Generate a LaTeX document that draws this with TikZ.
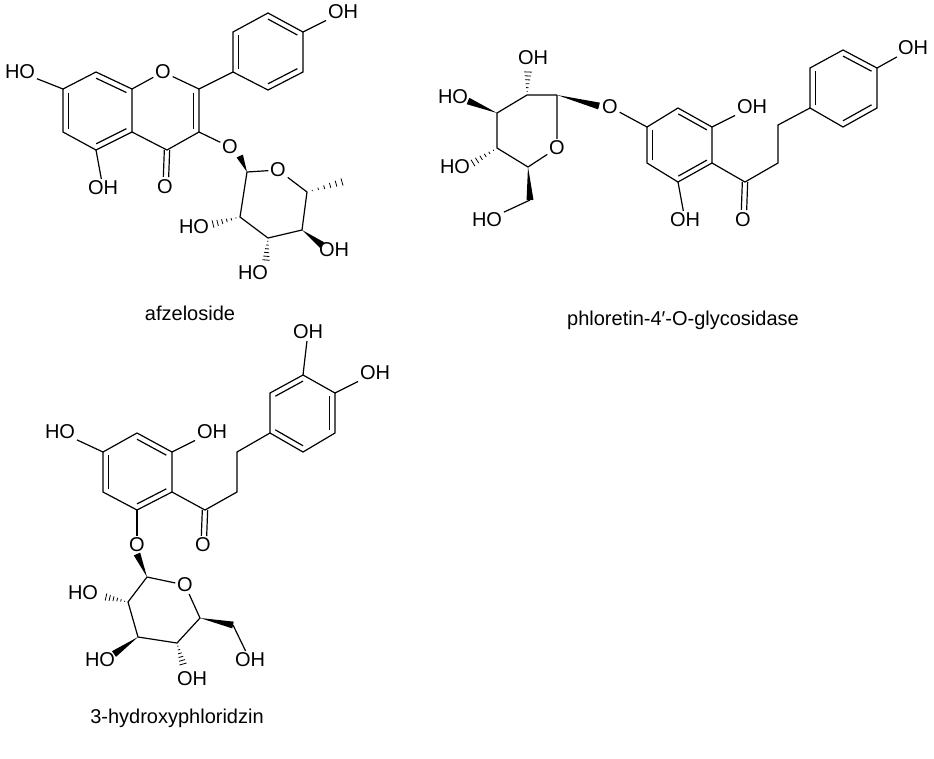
\documentclass[tikz,border=0pt]{standalone}
\usepackage{fontspec}
\setmainfont{Liberation Sans}
\usetikzlibrary{calc}
\newcommand\dbl[3]{\draw ($(#1)!0.16!(#3)$) -- ($(#2)!0.16!(#3)$);}
\newcommand\dblx[2]{\draw ($(#1)!2pt!90:(#2)$) -- ($(#2)!2pt!-90:(#1)$); \draw ($(#1)!2pt!-90:(#2)$) -- ($(#2)!2pt!90:(#1)$);}
\newcommand\wdg[2]{\fill (#1) -- ($(#2)!2.6pt!90:(#1)$) -- ($(#2)!2.6pt!-90:(#1)$) -- cycle;}
\newcommand\hsh[2]{\foreach \t [evaluate=\t as \w using \t*2.8] in {0.15,0.32,0.49,0.66,0.83,1.0}{\draw[line width=0.6pt] ($(#1)!\t!(#2)!\w pt!90:(#1)$) -- ($(#1)!\t!(#2)!\w pt!-90:(#1)$);}}
\begin{document}
\begin{tikzpicture}[x=0.75pt,y=-0.75pt,line width=0.9pt,
  atom/.style={inner sep=1pt,font=\fontsize{15}{15}\selectfont},
  lbl/.style={font=\fontsize{15}{15}\selectfont}]
\useasboundingbox[fill=white] (0,0) rectangle (934,758);
% ===== afzeloside =====
\foreach \n/\p in {a1/{96,72},a2/{63,89},a3/{63,132},a4/{96,150},a5/{132,132},a6/{132,89},
 c2/{199,89},c3/{199,132},c4/{167,150},ca/{97,111},cb/{165,111},
 b1/{233,72},b2/{233,32},b3/{268,13},b4/{303,32},b5/{303,72},b6/{268,90},cc/{268,51},
 s1/{247,172},s5/{307,192},s4/{302,230},s3/{268,238},s2/{240,217},
 me/{342,182},e2/{213,224},e4/{322,245},e3/{266,260},co/{166,177}}
 \coordinate (\n) at (\p);
\node[atom] (o1) at (163,72) {O};
\node[atom] (oh7) at (20,72) {HO};
\node[atom] (oh5) at (103,188) {OH};
\node[atom] (o4) at (165,187) {O};
\node[atom] (o3) at (230,147) {O};
\node[atom] (ohb) at (343,12) {OH};
\node[atom] (so) at (278,170) {O};
\node[atom] (h2) at (194,227) {HO};
\node[atom] (h4) at (334,250) {OH};
\node[atom] (h3) at (253,273) {HO};
\draw (a1)--(a2)--(a3)--(a4)--(a5)--(a6)--(a1);
\dbl{a1}{a6}{ca}\dbl{a2}{a3}{ca}\dbl{a4}{a5}{ca}
\draw (a6)--(o1)--(c2)--(c3)--(c4)--(a5);
\dbl{c2}{c3}{cb}
\dblx{c4}{co}
\draw (a2)--(oh7); \draw (a4)--(oh5); \draw (c3)--(o3);
\draw (c2)--(b1)--(b2)--(b3)--(b4)--(b5)--(b6)--(b1);
\dbl{b1}{b2}{cc}\dbl{b3}{b4}{cc}\dbl{b5}{b6}{cc}
\draw (b4)--(ohb);
\draw (s1)--(so)--(s5)--(s4)--(s3)--(s2)--(s1);
\wdg{s1}{o3.south east}
\hsh{s5}{me}\hsh{s2}{e2}\wdg{s4}{e4}\hsh{s3}{e3}
\node[lbl] at (190,313) {afzeloside};
% ===== phloretin =====
\foreach \n/\p in {p1/{557,95},p5/{528,167},p4/{497,148},p3/{497,113},p2/{527,95},
 f2/{528,72},f3/{468,101},f4/{473,163},f5/{530,200},f1/{599,106},
 q1/{647,127},q2/{678,108},q3/{712,127},q4/{712,163},q5/{678,182},q6/{647,163},cq/{680,145},
 k/{745,182},ko/{744,210},m1/{778,163},m2/{778,125},
 r1/{810,108},r2/{810,68},r3/{843,50},r4/{877,68},r5/{877,108},r6/{843,127},cr/{843,88}}
 \coordinate (\n) at (\p);
\node[atom] (po) at (557,148) {O};
\node[atom] (g2) at (533,58) {OH};
\node[atom] (g3) at (453,97) {HO};
\node[atom] (g4) at (455,167) {HO};
\node[atom] (g6) at (487,220) {HO};
\node[atom] (go) at (610,107) {O};
\node[atom] (g7) at (752,107) {OH};
\node[atom] (g8) at (685,220) {OH};
\node[atom] (g9) at (743,220) {O};
\node[atom] (g10) at (913,48) {OH};
\draw (p1)--(po)--(p5)--(p4)--(p3)--(p2)--(p1);
\hsh{p2}{f2}\wdg{p3}{f3}\hsh{p4}{f4}\wdg{p5}{f5}\draw (f5)--(g6);
\wdg{p1}{f1}
\draw (go)--(q1)--(q2)--(q3)--(q4)--(q5)--(q6)--(q1);
\dbl{q2}{q3}{cq}\dbl{q4}{q5}{cq}\dbl{q6}{q1}{cq}
\draw (q3)--(g7); \draw (q5)--(g8);
\draw (q4)--(k)--(m1)--(m2)--(r1); \dblx{k}{ko}
\draw (r1)--(r2)--(r3)--(r4)--(r5)--(r6)--(r1);
\dbl{r1}{r2}{cr}\dbl{r3}{r4}{cr}\dbl{r5}{r6}{cr}
\draw (r4)--(g10);
\node[lbl] at (683,320) {phloretin-4′-O-glycosidase};
% ===== 3-hydroxyphloridzin =====
\foreach \n/\p in {t1/{137,433},t2/{172,452},t3/{172,492},t4/{137,510},t5/{103,492},t6/{103,452},ct/{137,472},
 k2/{205,510},k2o/{204,536},n1/{237,492},n2/{237,452},
 u1/{270,433},u2/{270,393},u3/{303,375},u4/{335,393},u5/{335,433},u6/{303,452},cu/{303,413},
 v1/{147,577},v5/{200,618},v4/{177,643},v3/{138,637},v2/{128,602},
 w2/{106,597},w3/{114,654},w4/{183,664},w5/{233,625}}
 \coordinate (\n) at (\p);
\node[atom] (x1) at (60,432) {HO};
\node[atom] (x2) at (212,432) {OH};
\node[atom] (x3) at (203,545) {O};
\node[atom] (x4) at (308,332) {OH};
\node[atom] (x5) at (375,373) {OH};
\node[atom] (xo) at (137,545) {O};
\node[atom] (vo) at (185,585) {O};
\node[atom] (x6) at (83,593) {HO};
\node[atom] (x7) at (100,660) {HO};
\node[atom] (x8) at (192,679) {OH};
\node[atom] (x9) at (250,660) {OH};
\draw (t1)--(t2)--(t3)--(t4)--(t5)--(t6)--(t1);
\dbl{t1}{t2}{ct}\dbl{t3}{t4}{ct}\dbl{t5}{t6}{ct}
\draw (t6)--(x1); \draw (t2)--(x2);
\draw (t3)--(k2)--(n1)--(n2)--(u1); \dblx{k2}{k2o}
\draw (u1)--(u2)--(u3)--(u4)--(u5)--(u6)--(u1);
\dbl{u2}{u3}{cu}\dbl{u4}{u5}{cu}\dbl{u6}{u1}{cu}
\draw (u3)--(x4); \draw (u4)--(x5);
\draw (t4)--(xo);
\draw (v1)--(vo)--(v5)--(v4)--(v3)--(v2)--(v1);
\wdg{v1}{xo.south}
\hsh{v2}{w2}\wdg{v3}{w3}\hsh{v4}{w4}\wdg{v5}{w5}\draw (w5)--(x9);
\node[lbl] at (177,718) {3-hydroxyphloridzin};
\end{tikzpicture}
\end{document}
